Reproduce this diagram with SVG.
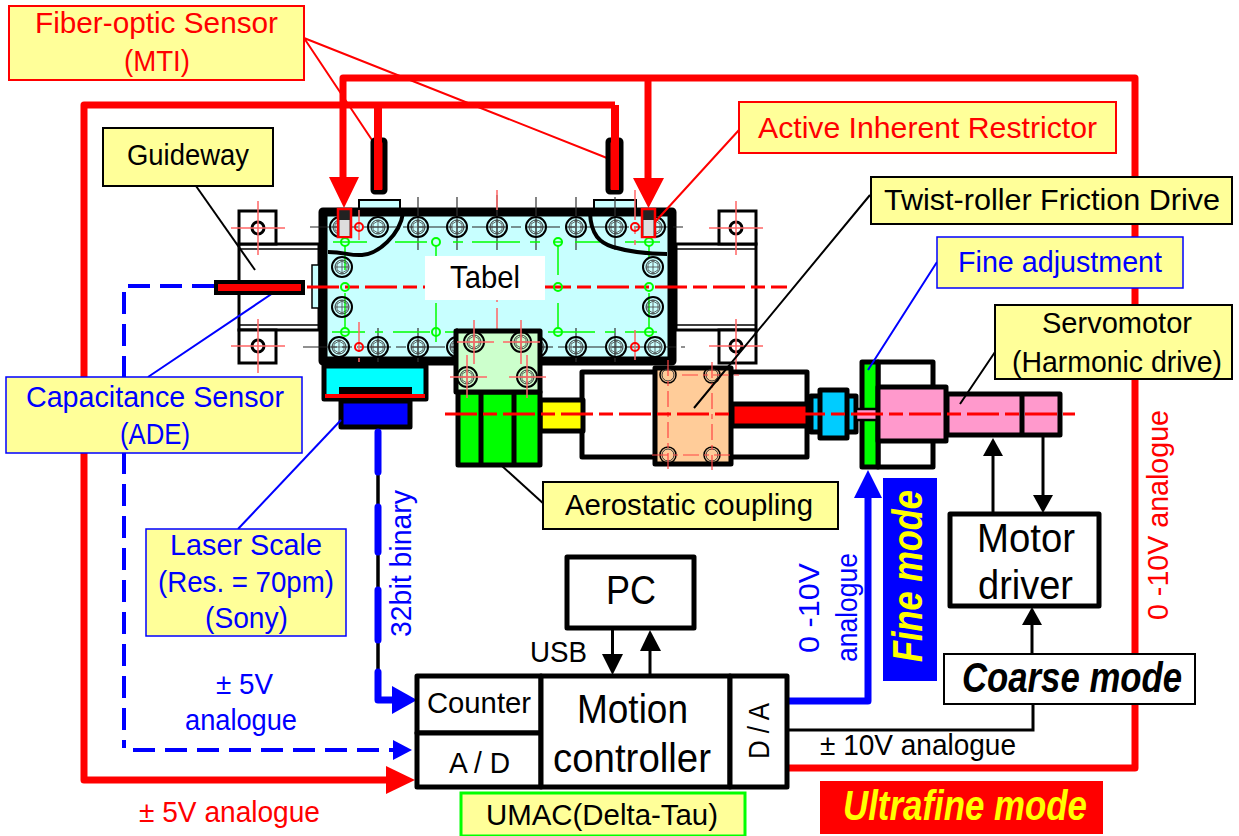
<svg xmlns="http://www.w3.org/2000/svg" xmlns:xlink="http://www.w3.org/1999/xlink" width="1239" height="836" viewBox="0 0 1239 836">
<style>
text{font-family:"Liberation Sans",Arial,sans-serif;font-size:30px;fill:#000}
.r{fill:#f00}.b{fill:#00f}.y{fill:#ff0}
.big{font-size:40px}
.em{font-weight:bold;font-style:italic;font-size:42px}
.lab{fill:#ffff99;stroke:#000;stroke-width:2}
.labr{fill:#ffff99;stroke:#f00;stroke-width:2}
.labb{fill:#ffff99;stroke:#00f;stroke-width:1.5}
.box{fill:#fff;stroke:#000;stroke-width:5;stroke-linejoin:round}
.hw{stroke:#000;stroke-width:5;stroke-linejoin:round}
.red7{stroke:#f00;stroke-width:7;fill:none;stroke-linejoin:round}
.blue7{stroke:#00f;stroke-width:7;fill:none;stroke-linejoin:round;stroke-linecap:round}
.thin{stroke-width:2;fill:none}
.ctr{stroke:#f00;stroke-width:3;stroke-dasharray:32 6 14 6;fill:none}
.grn{stroke:#0f0;stroke-width:1.5;fill:none}
.dk{stroke:#333;stroke-width:1.2;fill:none}
.lr{stroke:#f66;stroke-width:1.5;fill:none}
</style>
<defs>
<g id="bolt"><circle r="10" fill="none" stroke="#000" stroke-width="2"/><circle r="7" fill="none" stroke="#333" stroke-width="1"/><path d="M-5-3L0-6 5-3V3L0 6-5 3Z" fill="none" stroke="#444" stroke-width="0.800"/><path d="M0-7V7M-7 0H7" stroke="#444" stroke-width="0.800"/></g>
<g id="gc"><circle r="4" fill="none" stroke="#0f0" stroke-width="2"/></g>
<g id="rc"><circle r="4" fill="none" stroke="#f00" stroke-width="2"/></g>
<g id="hole"><circle r="6" fill="#fff" stroke="#000" stroke-width="3"/><path d="M-27 0H27M0-27V27" stroke="#f66" stroke-width="1.5"/></g>
<g id="sb"><circle r="8" fill="none" stroke="#000" stroke-width="1.500"/><circle r="6" fill="none" stroke="#333" stroke-width="1"/></g>
</defs>

<g id="guideway-left">
<rect x="239" y="244" width="80" height="86" fill="#fff" stroke="#000" stroke-width="3"/>
<path d="M239 249H319M239 325H319" stroke="#000" stroke-width="1.5"/>
<rect x="239" y="211" width="37" height="33" fill="#fff" stroke="#000" stroke-width="3"/>
<rect x="239" y="330" width="37" height="33" fill="#fff" stroke="#000" stroke-width="3"/>
<use xlink:href="#hole" href="#hole" x="258" y="228"/><use xlink:href="#hole" href="#hole" x="258" y="346"/>
<rect x="312" y="265" width="7" height="43" fill="#c8ffff" stroke="#000" stroke-width="1.5"/>
</g>
<g id="guideway-right">
<rect x="676" y="244" width="80" height="86" fill="#fff" stroke="#000" stroke-width="3"/>
<path d="M676 249H756M676 325H756" stroke="#000" stroke-width="1.5"/>
<rect x="719" y="211" width="37" height="33" fill="#fff" stroke="#000" stroke-width="3"/>
<rect x="719" y="330" width="37" height="33" fill="#fff" stroke="#000" stroke-width="3"/>
<use xlink:href="#hole" href="#hole" x="736" y="228"/><use xlink:href="#hole" href="#hole" x="736" y="346"/>
</g>

<g id="table">
<rect x="359" y="200" width="41" height="10" fill="#c8ffff" stroke="#000" stroke-width="2"/>
<rect x="594" y="200" width="42" height="10" fill="#c8ffff" stroke="#000" stroke-width="2"/>
<rect x="323" y="212" width="349" height="149" fill="#c8ffff" stroke="#000" stroke-width="9" stroke-linejoin="round"/>
<path d="M310 227H685M303 347H685" stroke="#222" stroke-width="1.2" stroke-dasharray="34 5 10 5"/>
<path d="M418 197V250M457 197V250M497 195V250M536 197V250M576 197V250M615 197V250M418 328V362M457 328V362M378 328V362M576 328V362M615 328V362" class="dk"/>
<path d="M333 242H367M395 242H427M453 242H463M472 242H520M530 242H540M553 242H563M575 242H600M625 242H660M332 332H365M375 332H383M393 332H430M445 332H455M548 332H595M605 332H615M625 332H657" class="grn"/>
<path d="M345 246V270M345 293V328M436 246V256M436 303V342M558 246V275M558 303V328M649 246V257M649 293V328" class="grn"/>
<path d="M359 210V240M359 322V362M635 190V245M635 330V362M497 190V210M497 258V330" class="lr" stroke-dasharray="30 6 8 6"/>
<use xlink:href="#bolt" href="#bolt" x="340" y="227"/><use xlink:href="#bolt" href="#bolt" x="378" y="227"/><use xlink:href="#bolt" href="#bolt" x="418" y="227"/><use xlink:href="#bolt" href="#bolt" x="457" y="227"/><use xlink:href="#bolt" href="#bolt" x="497" y="227"/><use xlink:href="#bolt" href="#bolt" x="536" y="227"/><use xlink:href="#bolt" href="#bolt" x="576" y="227"/><use xlink:href="#bolt" href="#bolt" x="616" y="227"/><use xlink:href="#bolt" href="#bolt" x="655" y="227"/>
<use xlink:href="#bolt" href="#bolt" x="339" y="347"/><use xlink:href="#bolt" href="#bolt" x="378" y="347"/><use xlink:href="#bolt" href="#bolt" x="418" y="347"/><use xlink:href="#bolt" href="#bolt" x="457" y="347"/><use xlink:href="#bolt" href="#bolt" x="537" y="347"/><use xlink:href="#bolt" href="#bolt" x="576" y="347"/><use xlink:href="#bolt" href="#bolt" x="616" y="347"/><use xlink:href="#bolt" href="#bolt" x="655" y="347"/>
<use xlink:href="#bolt" href="#bolt" x="342" y="267"/><use xlink:href="#bolt" href="#bolt" x="342" y="307"/><use xlink:href="#bolt" href="#bolt" x="653" y="267"/><use xlink:href="#bolt" href="#bolt" x="653" y="307"/>
<path d="M307 287H787" class="ctr"/>
<use xlink:href="#gc" href="#gc" x="345" y="242"/><use xlink:href="#gc" href="#gc" x="436" y="242"/><use xlink:href="#gc" href="#gc" x="558" y="242"/><use xlink:href="#gc" href="#gc" x="649" y="242"/>
<use xlink:href="#gc" href="#gc" x="345" y="287"/><use xlink:href="#gc" href="#gc" x="558" y="287"/><use xlink:href="#gc" href="#gc" x="649" y="287"/>
<use xlink:href="#gc" href="#gc" x="345" y="332"/><use xlink:href="#gc" href="#gc" x="436" y="332"/><use xlink:href="#gc" href="#gc" x="558" y="332"/><use xlink:href="#gc" href="#gc" x="649" y="332"/>
<use xlink:href="#rc" href="#rc" x="359" y="227"/><use xlink:href="#rc" href="#rc" x="359" y="347"/><use xlink:href="#rc" href="#rc" x="635" y="227"/><use xlink:href="#rc" href="#rc" x="635" y="347"/>
<path d="M328 252C345 252 350 256 362 255C378 254 400 235 403 213" fill="none" stroke="#000" stroke-width="4"/>
<path d="M590 213C591 235 600 243 613 247C630 252 650 254 667 254" fill="none" stroke="#000" stroke-width="4"/>
<rect x="425" y="256" width="120" height="44" fill="#fff"/>
<text x="450" y="288" style="font-size:32px" textLength="70" lengthAdjust="spacingAndGlyphs">Tabel</text>
<rect x="338" y="209" width="13" height="28" fill="#222" stroke="#f00" stroke-width="2.5"/><rect x="339.500" y="220" width="10" height="16" fill="#ddd"/>
<rect x="642" y="209" width="13" height="28" fill="#222" stroke="#f00" stroke-width="2.5"/><rect x="643.500" y="220" width="10" height="16" fill="#ddd"/>
</g>

<g id="laser-scale-head">
<rect x="324" y="366" width="102" height="33" fill="#0ff" stroke="#000" stroke-width="5" stroke-linejoin="round"/>
<rect x="339" y="387" width="73" height="12" fill="#000"/>
<rect x="325" y="394" width="100" height="4" fill="#f00"/>
<rect x="341" y="401" width="69" height="26" fill="#00f" stroke="#000" stroke-width="5" stroke-linejoin="round"/>
</g>

<g id="drive-train">
<rect x="582" y="372" width="225" height="85" class="box"/>
<rect x="540" y="400" width="43" height="31" fill="#ff0" class="hw"/>
<rect x="458" y="392" width="82" height="73" fill="#0f0" class="hw"/>
<path d="M481 392V465M514 392V465" stroke="#000" stroke-width="5"/>
<rect x="456" y="331" width="84" height="61" fill="#ccffcc" class="hw"/>
<use xlink:href="#bolt" href="#bolt" x="474" y="342"/><use xlink:href="#bolt" href="#bolt" x="521" y="342"/><use xlink:href="#bolt" href="#bolt" x="467" y="377"/><use xlink:href="#bolt" href="#bolt" x="527" y="377"/>
<path d="M457 342H494M503 342H540M450 377H487M509 377H546M474 320V364M521 320V364M467 355V398M527 355V398" class="lr"/>
<rect x="655" y="368" width="76" height="96" fill="#ffcc99" class="hw"/>
<use xlink:href="#sb" href="#sb" x="668" y="375"/><use xlink:href="#sb" href="#sb" x="712" y="375"/><use xlink:href="#sb" href="#sb" x="668" y="455"/><use xlink:href="#sb" href="#sb" x="712" y="455"/>
<path d="M668 360V470M712 362V470M652 455H730M682 375H742" stroke="#f44" stroke-width="1.200" stroke-dasharray="16 5 5 5" fill="none"/>
<rect x="732" y="404" width="76" height="22" fill="#f00" class="hw"/>
<rect x="811" y="396" width="45" height="36" fill="#0cf" class="hw"/>
<rect x="820" y="390" width="27" height="48" fill="#0cf" class="hw"/>
<rect x="878" y="362" width="55" height="105" class="box"/>
<rect x="862" y="362" width="16" height="105" fill="#0f0" class="hw"/>
<rect x="856" y="409" width="26" height="11" fill="#ff99cc" stroke="#000" stroke-width="2.500"/>
<rect x="878" y="387" width="68" height="54" fill="#ff99cc" class="hw"/>
<rect x="947" y="394" width="113" height="41" fill="#ff99cc" class="hw"/>
<path d="M1022 394V435" stroke="#000" stroke-width="5"/>
</g>

<g id="connectors">
<path d="M445 414H1075" class="ctr"/>
<path d="M196 186L255 270" class="thin" style="stroke:#000"/>
<path d="M304 38L372 140M304 38L607 158M739 130L655 222" style="stroke:#f00" class="thin"/>
<path d="M870 195L694 408M995 352L960 404" style="stroke:#000" class="thin"/>
<path d="M937 262L868 370M273 293L148 377" style="stroke:#00f" class="thin"/>
<path d="M341 420L238 529" style="stroke:#00f" class="thin"/>
<path d="M502 466L545 505" style="stroke:#000" class="thin"/>
<rect x="373" y="140" width="12" height="52" rx="2" fill="#f00" stroke="#000" stroke-width="5"/>
<rect x="608" y="140" width="13" height="52" rx="2" fill="#f00" stroke="#000" stroke-width="5"/>
<rect x="216" y="282" width="87" height="11" fill="#f00" stroke="#000" stroke-width="4"/>
<path d="M787 768H1135V78H343V180" class="red7"/><path d="M648 78V180" class="red7"/>
<path d="M329 177H359L344 208ZM633 178H664L648.500 208Z" fill="#f00"/>
<path d="M378 105V190M615 105V190" style="stroke:#f00;stroke-width:8" fill="none"/>
<path d="M615 105H84V780H390" class="red7"/>
<path d="M386 766L415 780L386 794Z" fill="#f00"/>
<path d="M214 286H124V748" fill="none" stroke="#00f" stroke-width="4" stroke-dasharray="22 10"/>
<path d="M133 750H396" fill="none" stroke="#00f" stroke-width="4" stroke-dasharray="22 10"/>
<path d="M393 740L412 750L393 760Z" fill="#00f"/>
<path d="M378 428V672" stroke="#000" stroke-width="3.500"/>
<path d="M378 432V472M378 507V552M378 590V640" class="blue7"/>
<path d="M378 672V700H395" class="blue7"/>
<path d="M392 686L417 700L392 714Z" fill="#00f"/>
<path d="M787 701H868V495" class="red7" style="stroke:#00f"/>
<path d="M854 498L868 470L882 498Z" fill="#00f"/>
<path d="M787 730H1033V704" fill="none" stroke="#000" stroke-width="3"/>
<path d="M1032 654V625" stroke="#000" stroke-width="3"/><path d="M1022 625H1042L1032 607Z"/>
<path d="M993 513V455" stroke="#000" stroke-width="3"/><path d="M983 456H1003L993 438Z"/>
<path d="M1043 437V495" stroke="#000" stroke-width="3"/><path d="M1033 495H1053L1043 513Z"/>
<path d="M612.500 628V655" stroke="#000" stroke-width="3"/><path d="M602 654H623L612.500 675Z"/>
<path d="M650 675V650" stroke="#000" stroke-width="3"/><path d="M640 651H661L650 630Z"/>
</g>

<g id="label-fiber"><rect x="9" y="6" width="295" height="74" class="labr"/><text class="r" x="35" y="33" textLength="243" lengthAdjust="spacingAndGlyphs">Fiber-optic Sensor</text><text class="r" x="124" y="71" textLength="66" lengthAdjust="spacingAndGlyphs">(MTI)</text></g>
<g id="label-guideway"><rect x="103" y="128" width="170" height="58" class="lab"/><text x="127" y="165" textLength="122" lengthAdjust="spacingAndGlyphs">Guideway</text></g>
<g id="label-restrictor"><rect x="739" y="102" width="377" height="51" class="labr"/><text class="r" x="758" y="138" textLength="339" lengthAdjust="spacingAndGlyphs">Active Inherent Restrictor</text></g>
<g id="label-twist"><rect x="871" y="177" width="361" height="47" class="lab"/><text x="884" y="210" textLength="336" lengthAdjust="spacingAndGlyphs">Twist-roller Friction Drive</text></g>
<g id="label-fine"><rect x="937" y="237" width="246" height="51" class="labb"/><text class="b" x="958" y="272" textLength="204" lengthAdjust="spacingAndGlyphs">Fine adjustment</text></g>
<g id="label-servo"><rect x="995" y="305" width="237" height="74" class="lab"/><text x="1042" y="333" textLength="150" lengthAdjust="spacingAndGlyphs">Servomotor</text><text x="1012" y="372" textLength="210" lengthAdjust="spacingAndGlyphs">(Harmonic drive)</text></g>
<g id="label-capacitance"><rect x="6" y="377" width="296" height="76" class="labb"/><text class="b" x="26" y="407" textLength="258" lengthAdjust="spacingAndGlyphs">Capacitance Sensor</text><text class="b" x="120" y="444" textLength="70" lengthAdjust="spacingAndGlyphs">(ADE)</text></g>
<g id="label-laser"><rect x="146" y="529" width="200" height="107" class="labb"/><text class="b" x="170" y="555" textLength="152" lengthAdjust="spacingAndGlyphs">Laser Scale</text><text class="b" x="158" y="592" textLength="176" lengthAdjust="spacingAndGlyphs">(Res. = 70pm)</text><text class="b" x="205" y="628" textLength="83" lengthAdjust="spacingAndGlyphs">(Sony)</text></g>
<g id="label-aerostatic"><rect x="543" y="482" width="295" height="47" class="lab"/><text x="565" y="515" textLength="248" lengthAdjust="spacingAndGlyphs">Aerostatic coupling</text></g>

<g id="pc"><rect x="567" y="557" width="127" height="71" class="box"/><text class="big" x="606" y="604" textLength="50" lengthAdjust="spacingAndGlyphs">PC</text></g>
<g id="motor-driver"><rect x="950" y="514" width="149" height="92" class="box"/><text class="big" x="977" y="552" textLength="98" lengthAdjust="spacingAndGlyphs">Motor</text><text class="big" x="978" y="599" textLength="95" lengthAdjust="spacingAndGlyphs">driver</text></g>
<g id="coarse"><rect x="944" y="654" width="251" height="50" fill="#fff" stroke="#000" stroke-width="2"/><text class="em" x="962" y="692" textLength="220" lengthAdjust="spacingAndGlyphs">Coarse mode</text></g>
<g id="counter"><rect x="417" y="676" width="124" height="57" class="box"/><text x="427" y="713" textLength="104" lengthAdjust="spacingAndGlyphs">Counter</text></g>
<g id="ad"><rect x="417" y="733" width="124" height="54" class="box"/><text x="449" y="773" textLength="61" lengthAdjust="spacingAndGlyphs">A / D</text></g>
<g id="motion"><rect x="541" y="676" width="189" height="111" class="box"/><text class="big" x="577" y="723" textLength="111" lengthAdjust="spacingAndGlyphs">Motion</text><text class="big" x="553" y="772" textLength="158" lengthAdjust="spacingAndGlyphs">controller</text></g>
<g id="da"><rect x="730" y="676" width="57" height="111" class="box"/><text transform="translate(769 759) rotate(-90)" x="0" y="0" textLength="56" lengthAdjust="spacingAndGlyphs">D / A</text></g>
<g id="umac"><rect x="461" y="793" width="284" height="43" fill="#ffff99" stroke="#0f0" stroke-width="3"/><text x="486" y="825" textLength="232" lengthAdjust="spacingAndGlyphs">UMAC(Delta-Tau)</text></g>
<g id="ultrafine"><rect x="820" y="781" width="283" height="53" fill="#f00"/><text class="em y" x="843" y="820" textLength="244" lengthAdjust="spacingAndGlyphs">Ultrafine mode</text></g>
<g id="finemode"><rect x="883" y="478" width="54" height="203" fill="#00f"/><text class="em y" transform="translate(922 662) rotate(-90)" x="0" y="0" textLength="172" lengthAdjust="spacingAndGlyphs">Fine mode</text></g>

<g id="wire-labels">
<text x="530" y="662" textLength="57" lengthAdjust="spacingAndGlyphs">USB</text>
<text x="820" y="755" textLength="196" lengthAdjust="spacingAndGlyphs">± 10V analogue</text>
<text class="r" x="139" y="822" textLength="181" lengthAdjust="spacingAndGlyphs">± 5V analogue</text>
<text class="b" x="216" y="694" textLength="57" lengthAdjust="spacingAndGlyphs">± 5V</text>
<text class="b" x="185" y="730" textLength="112" lengthAdjust="spacingAndGlyphs">analogue</text>
<text class="b" transform="translate(819 653) rotate(-90)" x="0" y="0" textLength="90" lengthAdjust="spacingAndGlyphs">0 -10V</text>
<text class="b" transform="translate(857 662) rotate(-90)" x="0" y="0" textLength="109" lengthAdjust="spacingAndGlyphs">analogue</text>
<text class="b" transform="translate(411 637) rotate(-90)" x="0" y="0" textLength="147" lengthAdjust="spacingAndGlyphs">32bit binary</text>
<text class="r" transform="translate(1168 620) rotate(-90)" x="0" y="0" textLength="210" lengthAdjust="spacingAndGlyphs">0 -10V analogue</text>
</g>
</svg>
